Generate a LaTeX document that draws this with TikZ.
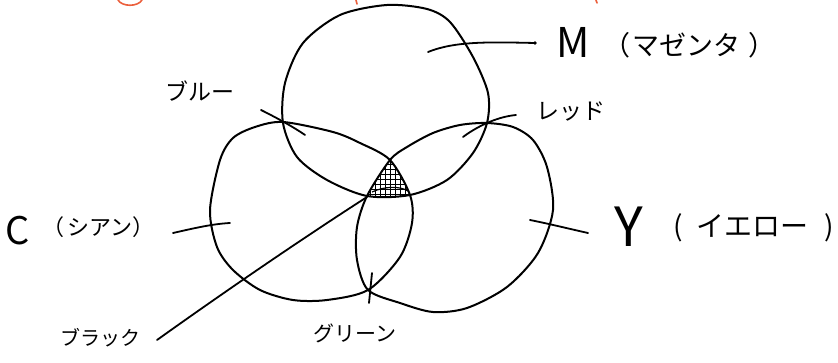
\documentclass[tikz,border=0pt]{standalone}
\usepackage{fontspec}
\newfontfamily\jp{Noto Sans CJK JP}
\definecolor{orng}{RGB}{235,95,60}
\tikzset{
  ink/.style={line width=2pt, line cap=round, line join=round, black},
  leader/.style={line width=1.8pt, line cap=round, black},
  circM/.style={insert path={plot[smooth cycle] coordinates{(387,5) (427,9) (450,22) (473,57) (488,93) (487,123) (473,153) (447,180) (410,195) (367,196) (327,180) (297,157) (283,123) (285,83) (303,43) (340,15)}}},
  circC/.style={insert path={plot[smooth cycle] coordinates{(210,210) (217,247) (233,270) (260,290) (293,300) (327,300) (368,290) (400,257) (412,223) (410,195) (390,160) (360,143) (333,132) (283,122) (255,127) (233,138) (220,160)}}},
  circY/.style={insert path={plot[smooth cycle] coordinates{(487,123) (513,127) (533,140) (547,167) (553,210) (538,253) (507,287) (467,308) (433,312) (400,303) (368,290) (357,260) (357,227) (367,196) (390,160) (407,147) (433,133) (460,125)}}},
  lab/.style={font=\jp, inner sep=0pt}
}
\begin{document}
\begin{tikzpicture}[x=1pt, y=-1pt]
\useasboundingbox (0,0) rectangle (838,363);
% cut-off orange writing at the top edge
\draw[orng, line width=1.6pt, line cap=round] (118,0) .. controls (122,7) and (138,7) .. (142,0);
\draw[orng, line width=1.6pt, line cap=round] (356,0) -- (357,4);
\draw[orng, line width=1.6pt, line cap=round] (596,0) -- (597,3);
% hatched common region
\begin{scope}
  \clip[circM];
  \clip[circC];
  \clip[circY];
  \draw[line width=1pt] (345,150) grid[step=5pt] (430,200);
\end{scope}
\draw[line width=1.2pt] (372,192) .. controls (385,186) and (400,186) .. (408,191);
% the three circles
\draw[ink, circM];
\draw[ink, circC];
\draw[ink, circY];
% labels
\node[lab, anchor=base west, font=\jp\fontsize{41}{41}\selectfont] (mL) at (556,58) {M};
\node[lab, anchor=base west, font=\jp\fontsize{27}{27}\selectfont] (mK) at (603,56) {（\hspace{2pt}マゼンタ\hspace{8pt}）};
\node[lab, anchor=base west, font=\jp\fontsize{38}{38}\selectfont] (cL) at (5,245) {C};
\node[lab, anchor=base west, font=\jp\fontsize{22}{22}\selectfont] (cK) at (42,236) {（\hspace{3pt}シアン）};
\node[lab, anchor=base west, font=\jp\fontsize{54}{54}\selectfont] (yL) at (614,247) {Y};
\node[lab, anchor=base west, font=\jp\fontsize{28}{28}\selectfont] (yK) at (673,237) {(\hspace{14pt}イエロー\hspace{16pt})};
\node[lab, font=\jp\fontsize{23}{23}\selectfont] (blue) at (200,91) {ブルー};
\node[lab, font=\jp\fontsize{23}{23}\selectfont] (red) at (571,112) {レッド};
\node[lab, font=\jp\fontsize{20}{20}\selectfont] (black) at (100,338) {ブラック};
\node[lab, font=\jp\fontsize{21}{21}\selectfont] (green) at (355,333) {グリーン};
% leader lines
\coordinate (mA) at (428,52);  \coordinate (mB) at (535,43);
\coordinate (bA) at (261,110); \coordinate (bB) at (305,135);
\coordinate (rA) at (516,115); \coordinate (rB) at (463,137);
\coordinate (cA) at (173,233); \coordinate (cB) at (230,223);
\coordinate (yA) at (530,220); \coordinate (yB) at (588,233);
\coordinate (kA) at (367,197); \coordinate (kB) at (157,340);
\coordinate (gA) at (372,273); \coordinate (gB) at (369,303);
\draw[leader] (mA) .. controls (455,41) and (490,42) .. (mB);
\fill (mB) circle (1.8pt);
\draw[leader] (bA) .. controls (275,117) and (292,126) .. (bB);
\draw[leader] (rA) .. controls (495,117) and (475,128) .. (rB);
\draw[leader] (cA) .. controls (195,228) and (212,224) .. (cB);
\draw[leader] (yA) .. controls (550,224) and (570,229) .. (yB);
\draw[leader] (kA) .. controls (300,240) and (220,295) .. (kB);
\draw[leader] (gA) -- (gB);
\end{tikzpicture}
\end{document}
